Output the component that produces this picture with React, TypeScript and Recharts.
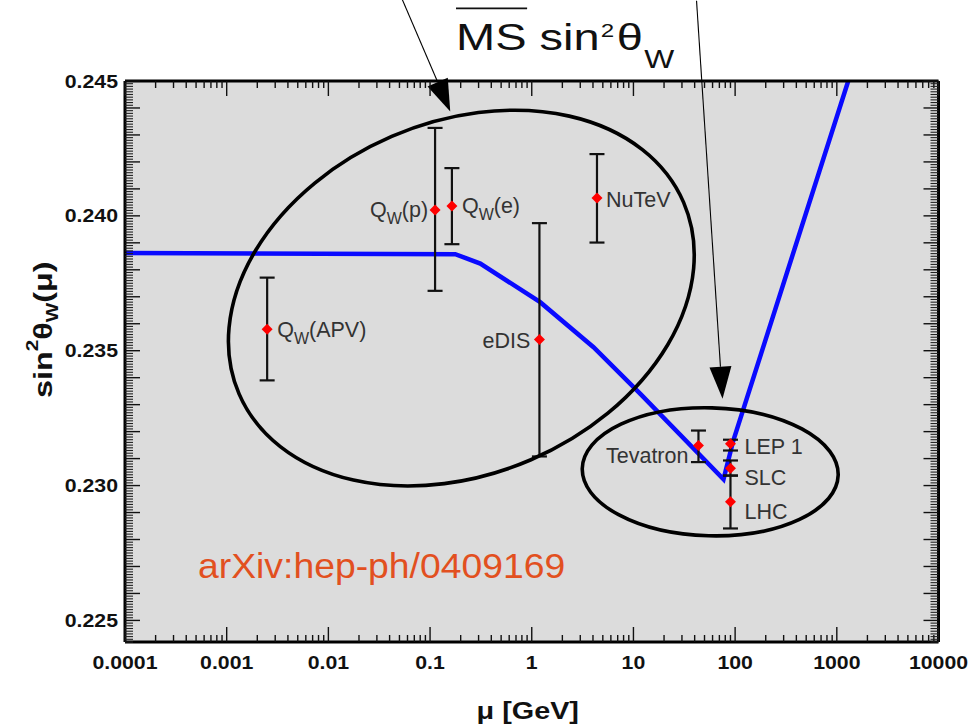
import React from "react";
import {
  CartesianGrid,
  ComposedChart,
  ErrorBar,
  Label,
  Line,
  ReferenceDot,
  Scatter,
  XAxis,
  YAxis,
} from "recharts";

const FONT = "'Liberation Sans', Arial, Helvetica, sans-serif";
const Y_MIN = 0.2242;
const Y_MAX = 0.245;

// running sin^2 theta_W in MS-bar
const curveMu = [0.0001, 0.177, 0.312, 1.21, 4.05, 11.7, 76.9, 95.8, 1300];
const curveS2w = [0.23862, 0.23858, 0.23823, 0.2368, 0.23513, 0.2334, 0.23023, 0.23166, 0.24502];

// measurements
const expNames = ["Q_W(APV)", "Q_W(p)", "Q_W(e)", "eDIS", "NuTeV", "Tevatron", "LEP 1", "SLC", "LHC"];
const expMu = [0.0025, 0.112, 0.164, 1.19, 4.38, 43.6, 90, 90, 90];
const expValue = [0.2358, 0.24022, 0.24037, 0.23542, 0.24066, 0.23149, 0.23155, 0.23064, 0.2294];
const expHigh = [0.23771, 0.24326, 0.24177, 0.23973, 0.24229, 0.23204, 0.2317, 0.23093, 0.23037];
const expLow = [0.2339, 0.23722, 0.23895, 0.23108, 0.23901, 0.23087, 0.2313, 0.23037, 0.22841];

// axis ticks
const xMajorTicks = [0.0001, 0.001, 0.01, 0.1, 1, 10, 100, 1000, 10000];
const xTickLabels = ["0.0001", "0.001", "0.01", "0.1", "1", "10", "100", "1000", "10000"];
const yMajorTicks = [0.225, 0.23, 0.235, 0.24, 0.245];
const yTickLabels = ["0.225", "0.230", "0.235", "0.240", "0.245"];

// rings grouping the low- and high-energy points
const ringMu = [0.203, 56.9];
const ringValue = [0.23695, 0.23051];
const ringStyle = [
  { rx: 242, ry: 176, tilt: -23.3 },
  { rx: 128, ry: 64, tilt: 1.5 },
];

// arrows from the title down into the plot
const arrowMu = [0.158, 75.2];
const arrowValue = [0.24387, 0.23322];
const arrowTail = [
  { dx: -48, dy: -112 },
  { dx: -26, dy: -398 },
];

const labelPlace: Record<string, { side: "left" | "right"; dx: number; dy: number }> = {
  "Q_W(APV)": { side: "right", dx: 10, dy: 0 },
  "Q_W(p)": { side: "left", dx: 7, dy: 0 },
  "Q_W(e)": { side: "right", dx: 10, dy: 0 },
  eDIS: { side: "left", dx: 9, dy: 1 },
  NuTeV: { side: "right", dx: 9, dy: 1 },
  Tevatron: { side: "left", dx: 10, dy: 10 },
  "LEP 1": { side: "right", dx: 14, dy: 3 },
  SLC: { side: "right", dx: 14, dy: 9 },
  LHC: { side: "right", dx: 14, dy: 10 },
};

const curveData = curveMu.map((mu, i) => ({ mu, s2w: curveS2w[i] }));
const expData = expNames.map((name, i) => ({
  name,
  mu: expMu[i],
  value: expValue[i],
  err: [expValue[i] - expLow[i], expHigh[i] - expValue[i]],
}));

const xAllTicks = xMajorTicks.flatMap((d, i) =>
  i === xMajorTicks.length - 1 ? [d] : [d, ...[2, 3, 4, 5, 6, 7, 8, 9].map((k) => d * k)]
);
// ticks every 0.001; each one also draws the 0.0001 hatching below it
const yMidTicks: number[] = [];
for (let i = 225; i <= 245; i++) yMidTicks.push(i / 1000);

function majorXIndex(v: number) {
  return xMajorTicks.findIndex((t) => Math.abs(t - v) / t < 1e-6);
}

function XTick(props: any) {
  const { x, y, payload, side } = props;
  const i = majorXIndex(payload.value);
  const len = i >= 0 ? 15 : 7;
  const dir = side === "bottom" ? -1 : 1;
  return (
    <g>
      <line x1={x} x2={x} y1={y} y2={y + dir * len} stroke="#111" strokeWidth={1.4} />
      {side === "bottom" && i >= 0 && (
        <text
          transform={`translate(${x},${y + 27}) scale(1.15,1)`}
          textAnchor="middle"
          fontFamily={FONT}
          fontWeight="bold"
          fontSize={18.5}
          fill="#111"
        >
          {xTickLabels[i]}
        </text>
      )}
    </g>
  );
}

function YTick(props: any) {
  const { x, y, payload, side, height } = props;
  const v = payload.value;
  const li = yMajorTicks.findIndex((t) => Math.abs(t - v) < 1e-7);
  const dir = side === "left" ? 1 : -1;
  const pxPerUnit = height > 100 ? height / (Y_MAX - Y_MIN) : 26970;
  const minors: number[] = [];
  for (let k = 1; k <= 9; k++) {
    if (v - k * 0.0001 >= Y_MIN - 1e-9) minors.push(y + k * 0.0001 * pxPerUnit);
  }
  return (
    <g>
      <line x1={x} x2={x + dir * 15} y1={y} y2={y} stroke="#111" strokeWidth={1.4} />
      {minors.map((my, k) => (
        <line key={k} x1={x} x2={x + dir * 8} y1={my} y2={my} stroke="#222" strokeWidth={1.1} />
      ))}
      {side === "left" && li >= 0 && (
        <text
          transform={`translate(${x - 7},${y + 6.6}) scale(1.15,1)`}
          textAnchor="end"
          fontFamily={FONT}
          fontWeight="bold"
          fontSize={18.5}
          fill="#111"
        >
          {yTickLabels[li]}
        </text>
      )}
    </g>
  );
}

function ExpPoint(props: any) {
  const { cx, cy, payload } = props;
  if (cx == null || cy == null) return null;
  const p = labelPlace[payload.name];
  const tx = p.side === "right" ? cx + p.dx : cx - p.dx;
  const ty = cy + p.dy + 7.5;
  const isQw = payload.name.startsWith("Q_W");
  return (
    <g>
      <polygon
        points={`${cx},${cy - 5.5} ${cx + 5.5},${cy} ${cx},${cy + 5.5} ${cx - 5.5},${cy}`}
        fill="#ff0000"
      />
      <text
        x={tx}
        y={ty}
        textAnchor={p.side === "right" ? "start" : "end"}
        fontFamily={FONT}
        fontSize={21.5}
        fill="#333"
      >
        {isQw ? (
          <>
            <tspan>Q</tspan>
            <tspan dy={7} fontSize={16}>
              W
            </tspan>
            <tspan dy={-7}>{payload.name.slice(3)}</tspan>
          </>
        ) : (
          payload.name
        )}
      </text>
    </g>
  );
}

function ringShape(i: number) {
  return (props: any) => {
    const { cx, cy } = props;
    const s = ringStyle[i];
    return (
      <ellipse
        cx={cx}
        cy={cy}
        rx={s.rx}
        ry={s.ry}
        transform={`rotate(${s.tilt} ${cx} ${cy})`}
        fill="none"
        stroke="#000"
        strokeWidth={3.6}
      />
    );
  };
}

function arrowShape(i: number) {
  return (props: any) => {
    const { cx, cy } = props;
    const t = arrowTail[i];
    const len = Math.hypot(t.dx, t.dy);
    const ux = -t.dx / len;
    const uy = -t.dy / len;
    const bx = cx - ux * 32;
    const by = cy - uy * 32;
    const hw = 11;
    return (
      <g>
        <line x1={cx + t.dx} y1={cy + t.dy} x2={bx} y2={by} stroke="#000" strokeWidth={1.1} />
        <polygon
          points={`${cx},${cy} ${bx - uy * hw},${by + ux * hw} ${bx + uy * hw},${by - ux * hw}`}
          fill="#000"
        />
      </g>
    );
  };
}

function YTitle(props: any) {
  const vb = props.viewBox;
  const bx = vb.x - 13;
  const by = vb.y + vb.height - 244;
  return (
    <g transform={`translate(${bx},${by}) rotate(-90) scale(1.22,1)`}>
      <text x={0} y={0} fontFamily={FONT} fontWeight="bold" fontSize={26.5} fill="#111">
        sin
        <tspan fontSize={17} dy={-14}>
          2
        </tspan>
        <tspan dy={14}>θ</tspan>
        <tspan fontSize={17} dy={6}>
          W
        </tspan>
        <tspan dy={-6}>(μ)</tspan>
      </text>
    </g>
  );
}

function XTitle(props: any) {
  const vb = props.viewBox;
  const cx = vb.x + vb.width / 2 - 4;
  return (
    <g transform={`translate(${cx},${vb.y + 77}) scale(1.2,1)`}>
      <text x={0} y={0} textAnchor="middle" fontFamily={FONT} fontWeight="bold" fontSize={24} fill="#111">
        μ [GeV]
      </text>
    </g>
  );
}

export default function App() {
  return (
    <div style={{ position: "relative", width: 980, height: 726, background: "#fff" }}>
      <style>{"body{margin:0}"}</style>
      <ComposedChart
        width={980}
        height={726}
        margin={{ top: 80, right: 40.5, bottom: 24, left: 65 }}
      >
        <CartesianGrid fill="#dcdcdc" horizontal={false} vertical={false} stroke="none" />
        <XAxis
          dataKey="mu"
          type="number"
          scale="log"
          domain={[0.0001, 10000]}
          allowDataOverflow
          ticks={xAllTicks}
          interval={0}
          height={60}
          tickSize={0}
          tickMargin={0}
          tickLine={false}
          axisLine={{ stroke: "#000", strokeWidth: 3 }}
          tick={(p: any) => <XTick {...p} side="bottom" />}
        >
          <Label content={XTitle} />
        </XAxis>
        <XAxis
          xAxisId="top"
          orientation="top"
          dataKey="mu"
          type="number"
          scale="log"
          domain={[0.0001, 10000]}
          allowDataOverflow
          ticks={xAllTicks}
          interval={0}
          height={1}
          tickSize={0}
          tickMargin={0}
          tickLine={false}
          axisLine={{ stroke: "#000", strokeWidth: 3 }}
          tick={(p: any) => <XTick {...p} side="top" />}
        />
        <YAxis
          type="number"
          domain={[Y_MIN, Y_MAX]}
          allowDataOverflow
          ticks={yMidTicks}
          interval={0}
          width={60}
          tickSize={0}
          tickMargin={0}
          tickLine={false}
          axisLine={{ stroke: "#000", strokeWidth: 3 }}
          tick={(p: any) => <YTick {...p} side="left" />}
        >
          <Label content={YTitle} />
        </YAxis>
        <YAxis
          yAxisId="right"
          orientation="right"
          type="number"
          domain={[Y_MIN, Y_MAX]}
          allowDataOverflow
          ticks={yMidTicks}
          interval={0}
          width={1}
          tickSize={0}
          tickMargin={0}
          tickLine={false}
          axisLine={{ stroke: "#000", strokeWidth: 3 }}
          tick={(p: any) => <YTick {...p} side="right" />}
        />
        <Line
          data={curveData}
          dataKey="s2w"
          xAxisId="top"
          yAxisId="right"
          type="linear"
          stroke="#0a0aff"
          strokeWidth={4.5}
          dot={false}
          activeDot={false}
          isAnimationActive={false}
        />
        {ringMu.map((mu, i) => (
          <ReferenceDot key={`ring-${i}`} x={mu} y={ringValue[i]} ifOverflow="visible" shape={ringShape(i)} />
        ))}
        <Scatter data={expData} dataKey="value" shape={ExpPoint} isAnimationActive={false}>
          <ErrorBar dataKey="err" direction="y" width={7.5} stroke="#111" strokeWidth={2.2} />
        </Scatter>
        {arrowMu.map((mu, i) => (
          <ReferenceDot key={`arrow-${i}`} x={mu} y={arrowValue[i]} ifOverflow="visible" shape={arrowShape(i)} />
        ))}
      </ComposedChart>
      <svg
        width={980}
        height={726}
        style={{ position: "absolute", left: 0, top: 0, pointerEvents: "none" }}
      >
        <g transform="translate(456,50) scale(1.27,1)">
          <text x={0} y={0} fontFamily={FONT} fontSize={37} fill="#111">
            MS sin
            <tspan fontSize={19} dx={1} dy={-13}>
              2
            </tspan>
            <tspan dx={2} dy={13}>
              θ
            </tspan>
            <tspan fontSize={25} dx={1} dy={18}>
              W
            </tspan>
          </text>
          <line x1={0} x2={56} y1={-41.7} y2={-41.7} stroke="#111" strokeWidth={1.8} />
        </g>
        <g transform="translate(198,578) scale(1.037,1)">
          <text x={0} y={0} fontFamily={FONT} fontSize={36} fill="#e2501f">
            arXiv:hep-ph/0409169
          </text>
        </g>
      </svg>
    </div>
  );
}
